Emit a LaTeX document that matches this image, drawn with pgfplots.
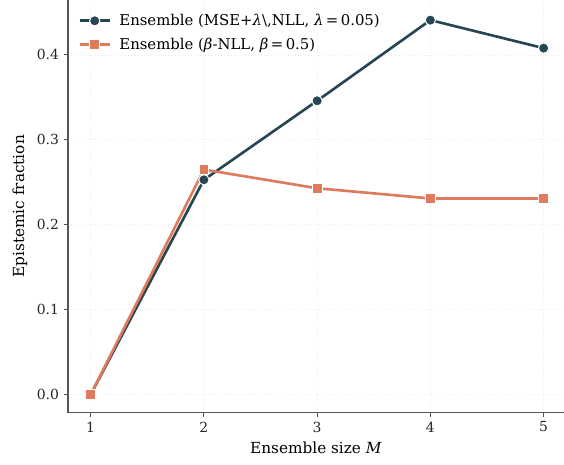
\documentclass[border=0pt]{standalone}
\usepackage{fontspec}
\setmainfont{DejaVu Serif}
\usepackage{pgfplots}
\pgfplotsset{compat=1.18}
\definecolor{cdark}{HTML}{264653}
\definecolor{corange}{HTML}{E07A5F}
\definecolor{spine}{HTML}{555555}
\begin{document}
\begin{tikzpicture}[x=1pt,y=1pt]
\begin{axis}[
  scale only axis,
  width=357pt, height=297pt,
  xmin=0.8, xmax=5.18,
  ymin=-0.0212, ymax=0.4647,
  axis x line*=bottom, axis y line*=left,
  axis line style={spine, line width=0.9pt},
  every outer x axis line/.append style={-},
  every outer y axis line/.append style={-},
  xtick={1,2,3,4,5},
  ytick={0,0.1,0.2,0.3,0.4},
  yticklabel style={/pgf/number format/fixed,/pgf/number format/precision=1,/pgf/number format/fixed zerofill},
  /pgf/number format/assume math mode=true,
  tick style={spine, line width=0.8pt},
  tick align=outside,
  major tick length=3pt,
  ticklabel style={font=\fontsize{10}{12}\selectfont, text=black!85},
  grid=major,
  major grid style={black!8, dotted, line width=0.6pt},
  xlabel={Ensemble size \textit{M}},
  ylabel={Epistemic fraction},
  label style={font=\fontsize{11}{13}\selectfont},
  legend style={draw=none, fill=none, at={(0.012,0.98)}, anchor=north west, font=\fontsize{10.7}{13}\selectfont, row sep=3.5pt, column sep=4pt},
  legend cell align=left,
  legend image code/.code={\draw[mark repeat=2,mark phase=2] plot coordinates {(0pt,0pt) (10.8pt,0pt) (21.6pt,0pt)};},
]
\addplot[color=cdark, line width=1.9pt, mark=*, mark size=3.7pt, mark options={fill=cdark, draw=white, line width=0.7pt}]
  coordinates {(1,0.0) (2,0.253) (3,0.346) (4,0.441) (5,0.408)};
\addlegendentry{Ensemble (MSE+\textit{λ}\textbackslash,NLL, \textit{λ}\,=\,0.05)}
\addplot[color=corange, line width=1.9pt, mark=square*, mark size=3.5pt, mark options={fill=corange, draw=white, line width=0.7pt}]
  coordinates {(1,0.0) (2,0.265) (3,0.243) (4,0.231) (5,0.231)};
\addlegendentry{Ensemble (\textit{β}-NLL, \textit{β}\,=\,0.5)}
\end{axis}
\pgfresetboundingbox
\path[use as bounding box] ([xshift=-68*0.72pt,yshift=-52*0.72pt]current axis.south west) rectangle (current axis.north east);
\end{tikzpicture}
\end{document}
